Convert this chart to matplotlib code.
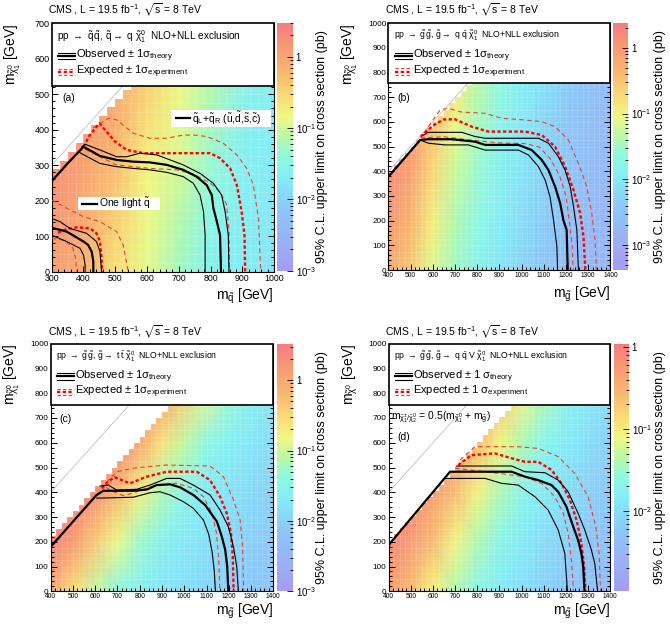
import numpy as np
import matplotlib
matplotlib.use('Agg')
import matplotlib.pyplot as plt
from matplotlib.colors import LinearSegmentedColormap, LogNorm
from matplotlib.patches import Rectangle
from matplotlib.ticker import MultipleLocator

plt.rcParams['font.family'] = ['Liberation Sans', 'DejaVu Sans']
plt.rcParams['mathtext.fontset'] = 'custom'
plt.rcParams['mathtext.rm'] = 'Liberation Sans'
plt.rcParams['mathtext.it'] = 'Liberation Sans'
plt.rcParams['mathtext.bf'] = 'Liberation Sans:bold'
plt.rcParams['mathtext.fallback'] = 'stixsans'

# ---------------- data ----------------
# heat map: log10 of the 95% CL cross section limit (pb) on a coarse mass grid
a_mass_x = [300, 400, 500, 600, 700, 800, 900, 1000]
a_mass_y = [0, 100, 200, 300, 400, 500, 600, 700]
a_log_limit = [
    [0.08, -0.13, -0.62, -0.90, -1.25, -1.60, -1.67, -1.78],
    [0.15, -0.08, -0.50, -0.87, -1.17, -1.52, -1.65, -1.75],
    [0.20, -0.03, -0.38, -0.83, -1.08, -1.43, -1.63, -1.73],
    [0.25, 0.03, -0.26, -0.80, -1.00, -1.34, -1.61, -1.70],
    [0.30, 0.08, -0.13, -0.62, -0.90, -1.25, -1.60, -1.67],
    [0.30, 0.15, -0.08, -0.50, -0.87, -1.17, -1.52, -1.65],
    [0.30, 0.20, -0.03, -0.38, -0.83, -1.08, -1.43, -1.63],
    [0.30, 0.25, 0.03, -0.26, -0.80, -1.00, -1.34, -1.61],
]
gl_mass_x = [400, 500, 600, 700, 800, 900, 1000, 1100, 1200, 1300, 1400]
gl_mass_y = [0, 200, 400, 600, 800, 1000]
b_log_limit = [
    [-0.18, -0.56, -1.15, -1.50, -1.80, -2.03, -2.25, -2.48, -2.63, -2.74, -2.82],
    [0.00, -0.33, -0.93, -1.39, -1.68, -1.94, -2.16, -2.39, -2.57, -2.69, -2.79],
    [0.15, -0.10, -0.70, -1.26, -1.56, -1.85, -2.07, -2.30, -2.51, -2.64, -2.75],
    [0.30, 0.08, -0.45, -1.06, -1.43, -1.75, -1.99, -2.21, -2.44, -2.59, -2.71],
    [0.35, 0.20, -0.20, -0.85, -1.30, -1.62, -1.90, -2.12, -2.36, -2.54, -2.67],
    [0.35, 0.30, 0.10, -0.56, -1.15, -1.50, -1.80, -2.03, -2.25, -2.48, -2.63],
]
c_log_limit = [
    [0.00, -0.55, -1.03, -1.42, -1.60, -1.75, -1.85, -1.95, -2.05, -2.12, -2.20],
    [0.40, 0.15, -0.37, -0.85, -1.28, -1.56, -1.72, -1.82, -1.92, -2.02, -2.10],
    [0.40, 0.40, 0.30, -0.20, -0.72, -1.17, -1.50, -1.67, -1.80, -1.90, -2.00],
    [0.40, 0.40, 0.40, 0.40, -0.05, -0.60, -1.05, -1.42, -1.62, -1.76, -1.86],
    [0.40, 0.40, 0.40, 0.40, 0.40, 0.10, -0.42, -0.90, -1.32, -1.58, -1.72],
    [0.40, 0.40, 0.40, 0.40, 0.40, 0.40, 0.25, -0.25, -0.75, -1.20, -1.50],
]
d_log_limit = [
    [-0.31, -0.60, -1.06, -1.39, -1.69, -1.85, -1.99, -2.12, -2.23, -2.33, -2.41],
    [-0.10, -0.31, -0.60, -1.06, -1.39, -1.69, -1.85, -1.99, -2.12, -2.23, -2.33],
    [0.00, -0.10, -0.31, -0.60, -1.06, -1.39, -1.69, -1.85, -1.99, -2.12, -2.23],
    [0.05, 0.00, -0.10, -0.31, -0.60, -1.06, -1.39, -1.69, -1.85, -1.99, -2.12],
    [0.05, 0.05, 0.00, -0.10, -0.31, -0.60, -1.06, -1.39, -1.69, -1.85, -1.99],
    [0.05, 0.05, 0.05, 0.00, -0.10, -0.31, -0.60, -1.06, -1.39, -1.69, -1.85],
]

# exclusion contours (mother mass, LSP mass) in GeV
# (a) squarks, qL+qR (u,d,s,c)
a_obs = [(300, 255), (350, 305), (400, 352), (452, 326), (504, 315), (557, 310), (609, 308), (662, 301),
         (714, 287), (756, 268), (788, 244), (804, 216), (809, 179), (820, 141), (830, 103), (833, 0)]
a_obs_up = [(395, 352), (405, 359), (452, 343), (504, 324), (536, 324), (578, 334), (631, 329), (714, 301),
            (767, 277), (809, 249), (835, 216), (846, 169), (856, 103), (858, 0)]
a_obs_dn = [(385, 337), (452, 305), (504, 296), (557, 291), (609, 287), (662, 280), (714, 268), (746, 249),
            (767, 216), (778, 169), (783, 103), (783, 0)]
a_exp = [(400, 352), (420, 385), (450, 418), (499, 367), (536, 343), (589, 334), (799, 334), (830, 320),
         (862, 291), (883, 244), (898, 169), (907, 103), (909, 0)]
a_exp_up = [(430, 405), (478, 432), (504, 428), (557, 390), (609, 376), (662, 376), (714, 385), (746, 385),
            (788, 381), (840, 362), (883, 329), (914, 291), (935, 244), (951, 150), (958, 0)]
a_exp_dn = [(405, 345), (504, 301), (609, 291), (693, 287), (746, 275), (799, 250), (830, 225), (850, 190),
            (858, 120), (860, 0)]
# (a) one light squark
a1_obs = [(300, 124), (347, 113), (400, 85), (415, 75), (426, 56), (431, 28), (431, 0)]
a1_obs_up = [(300, 150), (326, 141), (357, 122), (410, 108), (441, 85), (452, 56), (457, 0)]
a1_obs_dn = [(300, 103), (347, 85), (389, 66), (400, 47), (405, 19), (405, 0)]
a1_exp = [(320, 110), (347, 120), (379, 125), (421, 122), (441, 108), (452, 85), (457, 38), (459, 0)]
a1_exp_up = [(300, 202), (347, 179), (400, 155), (452, 141), (504, 113), (525, 75), (541, 0)]
a1_exp_dn = [(300, 95), (340, 88), (365, 70), (375, 40), (379, 0)]
# (b) gluino -> q qbar LSP
b_obs = [(400, 378), (543, 527), (580, 530), (685, 530), (791, 520), (836, 507), (986, 507), (1046, 486),
         (1091, 446), (1121, 405), (1151, 338), (1174, 270), (1188, 203), (1203, 162), (1208, 0)]
b_obs_up = [(558, 547), (580, 558), (730, 558), (791, 541), (836, 534), (1076, 534), (1121, 514), (1166, 459),
            (1196, 405), (1219, 338), (1234, 257), (1249, 162), (1256, 0)]
b_obs_dn = [(543, 527), (580, 514), (655, 507), (760, 507), (836, 486), (986, 486), (1031, 466), (1076, 419),
            (1106, 365), (1128, 297), (1144, 203), (1159, 95), (1162, 0)]
b_exp = [(545, 540), (600, 585), (648, 610), (700, 611), (775, 581), (851, 561), (1016, 561), (1091, 547),
         (1151, 500), (1196, 419), (1234, 324), (1264, 230), (1279, 135), (1287, 0)]
b_exp_up = [(560, 555), (633, 649), (671, 655), (730, 640), (836, 635), (911, 615), (1016, 608), (1091, 601),
            (1151, 581), (1211, 527), (1256, 432), (1294, 338), (1316, 230), (1331, 122), (1337, 0)]
b_exp_dn = [(545, 535), (650, 540), (760, 528), (900, 515), (1020, 512), (1080, 498), (1130, 450), (1170, 385),
            (1200, 300), (1215, 200), (1228, 100), (1232, 0)]
# (c) gluino -> t tbar LSP
c_obs = [(400, 180), (606, 389), (636, 406), (771, 406), (831, 411), (876, 429), (936, 432), (981, 420),
         (1041, 389), (1094, 348), (1147, 281), (1169, 220), (1184, 167), (1193, 100), (1198, 0)]
c_obs_up = [(622, 425), (659, 429), (696, 409), (786, 412), (846, 429), (921, 456), (981, 456), (1041, 429),
            (1116, 389), (1161, 328), (1198, 261), (1221, 180), (1236, 100), (1243, 0)]
c_obs_dn = [(607, 376), (771, 380), (846, 398), (891, 402), (936, 389), (996, 362), (1041, 335), (1086, 288),
            (1110, 230), (1125, 160), (1135, 80), (1140, 0)]
c_exp = [(630, 415), (659, 445), (688, 460), (756, 436), (831, 463), (921, 483), (1056, 483), (1116, 449),
         (1161, 382), (1191, 315), (1210, 234), (1218, 140), (1222, 0)]
c_exp_up = [(650, 440), (696, 483), (771, 497), (846, 504), (921, 510), (1116, 506), (1176, 463), (1221, 369),
            (1251, 288), (1262, 180), (1267, 0)]
c_exp_dn = [(650, 420), (666, 409), (726, 386), (786, 402), (876, 429), (966, 436), (1041, 416), (1086, 382),
            (1125, 315), (1145, 234), (1155, 126), (1160, 0)]
# (d) gluino -> q qbar V LSP
d_obs = [(400, 187), (677, 483), (955, 483), (1015, 463), (1075, 449), (1135, 429), (1165, 402), (1202, 342),
         (1233, 261), (1255, 207), (1270, 153), (1278, 100), (1284, 0)]
d_obs_up = [(707, 506), (955, 506), (1015, 483), (1105, 479), (1165, 449), (1210, 402), (1255, 315),
            (1285, 248), (1315, 167), (1330, 113), (1343, 0)]
d_obs_dn = [(654, 456), (835, 456), (910, 436), (985, 429), (1060, 382), (1120, 328), (1165, 248),
            (1195, 153), (1207, 0)]
d_exp = [(714, 510), (774, 550), (880, 557), (955, 537), (1015, 523), (1075, 523), (1135, 490), (1180, 436),
         (1218, 369), (1248, 288), (1270, 194), (1282, 100), (1288, 0)]
d_exp_up = [(722, 530), (789, 584), (985, 584), (1075, 577), (1165, 544), (1240, 476), (1300, 382),
            (1335, 261), (1350, 150), (1356, 0)]
d_exp_dn = [(700, 497), (835, 483), (1015, 463), (1090, 436), (1150, 382), (1188, 315), (1210, 234),
            (1225, 126), (1234, 0)]

decade_labels = {1.0: '1', 0.1: '$10^{-1}$', 0.01: '$10^{-2}$', 0.001: '$10^{-3}$'}

palette = LinearSegmentedColormap.from_list('limit', [
    (0.00, '#a49cf4'), (0.12, '#9cb0f6'), (0.25, '#8cc8f8'), (0.38, '#84eef6'),
    (0.46, '#90f8e0'), (0.54, '#b8f8a8'), (0.62, '#f0f884'), (0.70, '#f8dc78'),
    (0.80, '#f8b870'), (0.90, '#f89a74'), (1.00, '#f87c7c')])

fig = plt.figure(figsize=(6.7, 6.24), dpi=100)


def draw_lines(ax, curves):
    obs, up, dn, exp, eup, edn = curves
    for c in (eup, edn):
        ax.plot(*zip(*c), color='#e8402f', lw=0.8, ls=(0, (4, 3)), zorder=3)
    ax.plot(*zip(*exp), color='red', lw=1.7, ls=(0, (1.4, 1.0)), zorder=3)
    for c in (up, dn):
        ax.plot(*zip(*c), color='black', lw=0.8, zorder=3)
    ax.plot(*zip(*obs), color='black', lw=1.6, zorder=3)


def draw_panel(pos, cpos, mass_x, mass_y, log_limit, zrange, gap, curve_sets, process,
               box_low, xlab, ylab, xfs, yfs, proc_fs, sig_space, cb_text_x, xlab_y):
    ax = fig.add_axes(pos)
    norm = LogNorm(*zrange)
    xx, yy = np.meshgrid(mass_x, mass_y)
    lim = np.clip(10.0 ** np.array(log_limit), zrange[0], zrange[1])
    ax.pcolormesh(xx, yy, lim, shading='gouraud', cmap=palette, norm=norm, zorder=0)
    # faint borders of the 25 GeV scan cells
    cols = np.arange(mass_x[0], mass_x[-1] + 25, 25)
    rows = np.arange(mass_y[0], mass_y[-1] + 25, 25)
    ax.vlines(cols, mass_y[0], mass_y[-1], color='white', lw=0.4, alpha=0.22, zorder=0.5)
    ax.hlines(rows, mass_x[0], mass_x[-1], color='white', lw=0.4, alpha=0.22, zorder=0.5)
    # white region above the kinematic limit, drawn in 25 GeV columns
    ax.fill_between(cols, cols - gap, mass_y[-1] + 500, step='post', color='white', lw=0, zorder=1)
    ax.plot([mass_x[0], mass_y[-1]], [mass_x[0], mass_y[-1]], color='#b4b4b4', lw=0.5, zorder=2)
    for curves in curve_sets:
        draw_lines(ax, curves)

    ax.set_xlim(mass_x[0], mass_x[-1])
    ax.set_ylim(mass_y[0], mass_y[-1])
    ax.xaxis.set_major_locator(MultipleLocator(100))
    ax.xaxis.set_minor_locator(MultipleLocator(20))
    ax.yaxis.set_major_locator(MultipleLocator(100))
    ax.yaxis.set_minor_locator(MultipleLocator(20))
    ax.tick_params(which='both', direction='in', top=True, right=True, width=0.7)
    ax.tick_params(which='major', length=4.5)
    ax.tick_params(which='minor', length=2.3)
    ax.tick_params(axis='x', labelsize=xfs, pad=1.5)
    ax.tick_params(axis='y', labelsize=yfs, pad=1.5)
    for s in ax.spines.values():
        s.set_linewidth(0.8)

    # legend box
    ax.add_patch(Rectangle((0, box_low), 1, 1 - box_low, transform=ax.transAxes, facecolor='white',
                           edgecolor='black', lw=1.2, zorder=5, clip_on=False))
    ax.text(0.025, 0.947, process, transform=ax.transAxes, fontsize=proc_fs, va='center', zorder=6)
    for dy, w in ((0.013, 0.8), (0.0, 1.6), (-0.013, 0.8)):
        ax.plot([0.03, 0.105], [0.868 + dy] * 2, color='black', lw=w, transform=ax.transAxes, zorder=6,
                clip_on=False)
    for dy, w, ls, col in ((0.013, 0.8, (0, (3, 2)), '#e8402f'), (0.0, 1.7, (0, (1.4, 1.0)), 'red'),
                           (-0.013, 0.8, (0, (3, 2)), '#e8402f')):
        ax.plot([0.03, 0.105], [0.804 + dy] * 2, color=col, lw=w, ls=ls, transform=ax.transAxes, zorder=6,
                clip_on=False)
    ax.text(0.11, 0.868, 'Observed $\\pm$ 1' + sig_space + '$\\sigma_{\\rm theory}$', transform=ax.transAxes,
            fontsize=8, va='center', zorder=6)
    ax.text(0.11, 0.804, 'Expected $\\pm$ 1' + sig_space + '$\\sigma_{\\rm experiment}$', transform=ax.transAxes,
            fontsize=8, va='center', zorder=6)

    ax.text(1.0, xlab_y, xlab, transform=ax.transAxes, ha='right', va='center', fontsize=10)
    ax.text(-0.175, 1.0, ylab, transform=ax.transAxes, ha='center', va='top', rotation=90, fontsize=10)

    # the "0" of the y axis sits just above the corner, as in ROOT
    fig.canvas.draw()
    ax.yaxis.get_major_ticks()[0].label1.set_verticalalignment('bottom')

    # colour scale
    cax = fig.add_axes(cpos)
    cb = fig.colorbar(matplotlib.cm.ScalarMappable(norm=norm, cmap=palette), cax=cax)
    cb.outline.set_visible(False)
    ticks = [t for t in sorted(decade_labels) if zrange[0] <= t <= zrange[1]]
    cb.set_ticks(ticks)
    cb.set_ticklabels([decade_labels[t] for t in ticks])
    cb.minorticks_on()
    cax.tick_params(which='both', direction='in', labelsize=7, width=0.6, pad=2)
    cax.tick_params(which='major', length=4)
    cax.tick_params(which='minor', length=2)
    fig.text(cb_text_x, cpos[1] + cpos[3] / 2, '95% C.L. upper limit on cross section (pb)', rotation=90,
             ha='center', va='center', fontsize=9)
    return ax


lumi = 'CMS , L = 19.5 fb$^{-1}$, $\\sqrt{s}$ = 8 TeV'
fig.text(0.072, 0.984, lumi, fontsize=7.5, va='center')
fig.text(0.575, 0.984, lumi, fontsize=7.5, va='center')
fig.text(0.072, 0.468, lumi, fontsize=7.5, va='center')
fig.text(0.575, 0.468, lumi, fontsize=7.5, va='center')

lsp_label = '$m_{\\tilde{\\chi}^{0}_{1}}$ [GeV]'

# (a)
ax_a = draw_panel([0.0772, 0.5646, 0.3318, 0.3981], [0.4137, 0.5662, 0.0236, 0.3974],
                  a_mass_x, a_mass_y, a_log_limit, (1e-3, 3.0), 12,
                  [(a_obs, a_obs_up, a_obs_dn, a_exp, a_exp_up, a_exp_dn),
                   (a1_obs, a1_obs_up, a1_obs_dn, a1_exp, a1_exp_up, a1_exp_dn)],
                  'pp $\\rightarrow$ $\\tilde{q}\\,\\tilde{q}$, $\\tilde{q}\\rightarrow$ q $\\tilde{\\chi}^{0}_{1}$  NLO+NLL exclusion',
                  0.747, '$m_{\\tilde{q}}$ [GeV]', lsp_label, 6.3, 6.5, 7.2, '', 0.4806, -0.1)
ax_a.text(332, 490, '(a)', fontsize=7.5, va='center', zorder=4)
ax_a.add_patch(Rectangle((677, 409), 315, 47, facecolor='white', edgecolor='none', zorder=4))
ax_a.plot([691, 735], [433, 433], color='black', lw=1.6, zorder=4)
ax_a.text(742, 433, '$\\tilde{q}_{L}$+$\\tilde{q}_{R}$ ($\\tilde{u}$,$\\tilde{d}$,$\\tilde{s}$,$\\tilde{c}$)',
          fontsize=7.5, va='center', zorder=4)
ax_a.add_patch(Rectangle((383, 174), 258, 37, facecolor='white', edgecolor='none', zorder=4))
ax_a.plot([396, 443], [192, 192], color='black', lw=1.6, zorder=4)
ax_a.text(449, 192, 'One light $\\tilde{q}$', fontsize=7.5, va='center', zorder=4)

# (b)
ax_b = draw_panel([0.5797, 0.5673, 0.3313, 0.3954], [0.9154, 0.5673, 0.0224, 0.3963],
                  gl_mass_x, gl_mass_y, b_log_limit, (4.2e-4, 2.4), 0,
                  [(b_obs, b_obs_up, b_obs_dn, b_exp, b_exp_up, b_exp_dn)],
                  'pp $\\rightarrow$ $\\tilde{g}\\,\\tilde{g}$, $\\tilde{g}\\rightarrow$ q $\\bar{q}$ $\\tilde{\\chi}^{0}_{1}$  NLO+NLL exclusion',
                  0.757, '$m_{\\tilde{g}}$ [GeV]', lsp_label, 4.8, 5.9, 6.2, '', 0.985, -0.1)
ax_b.text(440, 698, '(b)', fontsize=7.5, va='center', zorder=4)

# (c)
ax_c = draw_panel([0.0757, 0.0524, 0.3322, 0.3968], [0.4139, 0.0524, 0.0239, 0.3968],
                  gl_mass_x, gl_mass_y, c_log_limit, (1e-3, 3.3), 175,
                  [(c_obs, c_obs_up, c_obs_dn, c_exp, c_exp_up, c_exp_dn)],
                  'pp $\\rightarrow$ $\\tilde{g}\\,\\tilde{g}$, $\\tilde{g}\\rightarrow$ t $\\bar{t}$ $\\tilde{\\chi}^{0}_{1}$  NLO+NLL exclusion',
                  0.751, '$m_{\\tilde{g}}$ [GeV]', lsp_label, 4.8, 5.9, 6.2, '', 0.480, -0.08)
ax_c.text(440, 697, '(c)', fontsize=7.5, va='center', zorder=4)

# (d)
ax_d = draw_panel([0.5801, 0.0524, 0.3307, 0.3968], [0.9169, 0.0524, 0.0219, 0.3968],
                  gl_mass_x, gl_mass_y, d_log_limit, (1.05e-3, 1.1), 195,
                  [(d_obs, d_obs_up, d_obs_dn, d_exp, d_exp_up, d_exp_dn)],
                  'pp $\\rightarrow$ $\\tilde{g}\\,\\tilde{g}$, $\\tilde{g}\\rightarrow$ q $\\bar{q}$ V $\\tilde{\\chi}^{0}_{1}$  NLO+NLL exclusion',
                  0.751, '$m_{\\tilde{g}}$ [GeV]', '$m_{\\tilde{\\chi}^{0}}$ [GeV]', 4.8, 5.9, 6.2, ' ', 0.985, -0.08)
ax_d.text(440, 623, '(d)', fontsize=7.5, va='center', zorder=4)
ax_d.text(410, 705, '$m_{\\tilde{\\chi}^{\\pm}_{1}/\\tilde{\\chi}^{0}_{2}}$ = 0.5($m_{\\tilde{\\chi}^{0}_{1}}$ + $m_{\\tilde{g}}$)',
          fontsize=7.5, va='center', zorder=4)

fig.savefig('out.png', dpi=100)
